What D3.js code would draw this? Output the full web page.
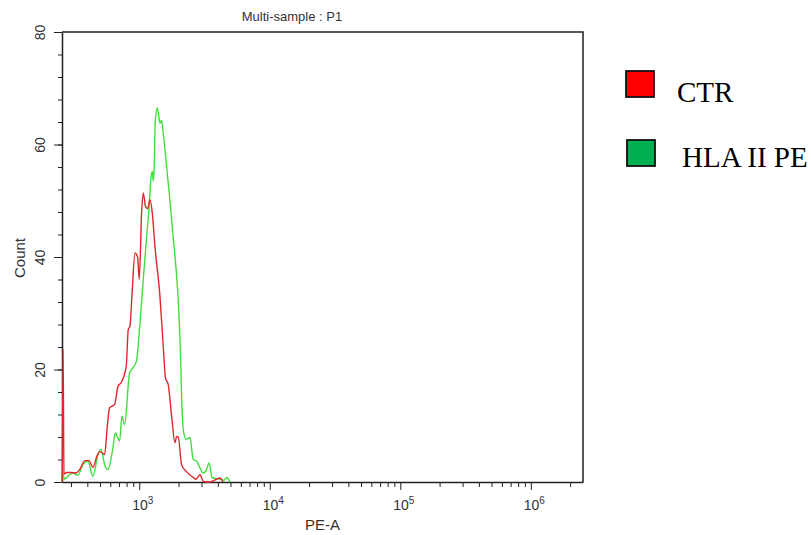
<!DOCTYPE html>
<html>
<head>
<meta charset="utf-8">
<script src="https://cdn.jsdelivr.net/npm/d3@7"></script>
<style>
  body { margin: 0; background: #fff; }
  .axis path, .axis line { stroke: #222; }
  .axis text { fill: #333; font-family: "Liberation Sans", Arial, sans-serif; }
  .line { fill: none; stroke-width: 1.4; stroke-linejoin: round; }
</style>
</head>
<body>
<div id="wrapper"></div>
<script>
// histogram outlines: PE-A value and event count
const ctrPE = [257, 261, 265, 278, 303, 327, 351, 384, 412, 442, 474, 500, 543, 569, 593, 648, 687, 728, 795, 824, 849, 879, 927, 972, 1000, 1043, 1073, 1120, 1160, 1208, 1258, 1319, 1441, 1527, 1588, 1668, 1771, 1877, 1935, 1990, 2113, 2308, 2594, 2720, 2919, 3094, 3482, 3919, 4153, 4379];
const ctrCount = [0, 23.5, 1.4, 1.7, 1.7, 1.6, 2.3, 3.8, 3.8, 2.6, 4.6, 5.4, 4.9, 9.9, 13.2, 13.8, 17, 17.7, 20.6, 27.1, 27.7, 33, 40.7, 40, 36, 47.9, 51.4, 48.9, 48.6, 50.2, 47.9, 41.9, 33, 24.1, 18.5, 17.3, 11.7, 7, 8.1, 8, 3, 1.8, 0.8, 0.5, 1.3, 0.1, 0, 0.5, 0.7, 0];

const hlaPE = [256, 259, 266, 284, 310, 339, 370, 404, 442, 483, 511, 543, 576, 629, 655, 708, 737, 773, 844, 895, 952, 1012, 1073, 1139, 1187, 1229, 1262, 1280, 1303, 1326, 1374, 1403, 1441, 1484, 1527, 1622, 1719, 1828, 1928, 2015, 2069, 2113, 2174, 2280, 2446, 2594, 2753, 2919, 3094, 3245, 3439, 3607, 4153, 4457, 4674, 4955];
const hlaCount = [0, 2.2, 0.5, 1, 1.6, 1.2, 3.1, 3.7, 1, 4.9, 5.8, 3.1, 2.2, 6.1, 8.7, 7.3, 11.7, 10.2, 19.4, 20.3, 21.5, 28, 36, 43.5, 48.5, 54, 55.2, 53.5, 56, 64, 66.5, 65.5, 63.8, 64.3, 62, 56, 50, 43, 37, 30, 23, 15, 9.3, 7.6, 7.9, 4, 3.7, 2.5, 1.6, 2, 3.4, 0.8, 0.5, 0.3, 0.8, 0];

const seriesNames = ["CTR", "HLA II PE"];
const yTickValues = [0, 20, 40, 60, 80];
const xDecades = [3, 4, 5, 6];

const dimensions = {
  width: 811,
  height: 535,
  margin: { top: 32, left: 62 },
  boundedWidth: 521,
  boundedHeight: 450,
};

const wrapper = d3.select("#wrapper")
  .append("svg")
    .attr("width", dimensions.width)
    .attr("height", dimensions.height);

const bounds = wrapper.append("g")
  .attr("transform", `translate(${dimensions.margin.left},${dimensions.margin.top})`);

// scales
const xScale = d3.scaleLog()
  .domain([256, 2.51e6])
  .range([0, dimensions.boundedWidth]);

const yScale = d3.scaleLinear()
  .domain([0, 80])
  .range([dimensions.boundedHeight, 0]);

// box top and right
bounds.append("path")
  .attr("d", `M0,0H${dimensions.boundedWidth}V${dimensions.boundedHeight}`)
  .attr("fill", "none")
  .attr("stroke", "#222")
  .attr("stroke-width", 1.5);

// y axis: minor ticks every 4, labelled majors every 20
const yMinor = d3.range(0, 81, 4);
bounds.append("g")
  .attr("class", "axis")
  .call(d3.axisLeft(yScale).tickValues(yMinor).tickSize(4).tickFormat(""))
  .call(g => g.select(".domain").remove());

const yAxis = bounds.append("g")
  .attr("class", "axis")
  .call(d3.axisLeft(yScale).tickValues(yTickValues).tickSize(8).tickSizeOuter(0));
yAxis.select(".domain").attr("stroke-width", 1.5);
yAxis.selectAll("text")
  .attr("transform", "rotate(-90)")
  .attr("x", 0)
  .attr("y", -17)
  .attr("dy", 0)
  .attr("text-anchor", "middle")
  .style("font-size", "14px");

// x axis: log decades with 2..9 minor ticks
const xMinor = [];
for (let n = 2; n <= 6; n++) {
  for (let k = 2; k <= 9; k++) {
    const v = k * Math.pow(10, n);
    if (v >= xScale.domain()[0] && v <= xScale.domain()[1]) xMinor.push(v);
  }
}
bounds.append("g")
  .attr("class", "axis")
  .attr("transform", `translate(0,${dimensions.boundedHeight})`)
  .call(d3.axisBottom(xScale).tickValues(xMinor).tickSize(5).tickFormat(""))
  .call(g => g.select(".domain").remove());

const xAxis = bounds.append("g")
  .attr("class", "axis")
  .attr("transform", `translate(0,${dimensions.boundedHeight})`)
  .call(d3.axisBottom(xScale)
    .tickValues(xDecades.map(p => Math.pow(10, p)))
    .tickSize(8)
    .tickSizeOuter(0)
    .tickFormat(""));
xAxis.select(".domain").attr("stroke-width", 1.5);
xAxis.selectAll(".tick")
  .append("text")
    .attr("x", 3)
    .attr("y", 28)
    .attr("text-anchor", "middle")
    .style("font-size", "14px")
    .text("10")
  .append("tspan")
    .attr("dy", -6)
    .style("font-size", "10px")
    .text((d, i) => xDecades[i]);

// histogram lines, drawn over the axes so the edge spike shows
const lineGenerator = d3.line()
  .x(d => xScale(d[0]))
  .y(d => yScale(d[1]))
  .curve(d3.curveMonotoneX);

const series = [
  { name: seriesNames[1], values: d3.zip(hlaPE, hlaCount), color: "#3fe03a" },
  { name: seriesNames[0], values: d3.zip(ctrPE, ctrCount), color: "#e3262b" },
];

bounds.selectAll(".line")
  .data(series)
  .join("path")
    .attr("class", "line")
    .attr("stroke", d => d.color)
    .attr("d", d => lineGenerator(d.values));

// axis labels and title
const labelFont = "Liberation Sans, Arial, sans-serif";
wrapper.append("text")
  .attr("x", 292)
  .attr("y", 21)
  .attr("text-anchor", "middle")
  .attr("font-family", labelFont)
  .attr("font-size", 13)
  .attr("fill", "#333")
  .text("Multi-sample : P1");

wrapper.append("text")
  .attr("x", dimensions.margin.left + dimensions.boundedWidth / 2)
  .attr("y", 530)
  .attr("text-anchor", "middle")
  .attr("font-family", labelFont)
  .attr("font-size", 15)
  .attr("fill", "#333")
  .text("PE-A");

wrapper.append("text")
  .attr("transform", "translate(25,258) rotate(-90)")
  .attr("text-anchor", "middle")
  .attr("font-family", labelFont)
  .attr("font-size", 15)
  .attr("fill", "#333")
  .text("Count");

// legend
const legendItems = [
  { name: seriesNames[0], color: "#ff0000", x: 626, y: 71, tx: 677, ty: 102 },
  { name: seriesNames[1], color: "#00b050", x: 627, y: 140, tx: 682, ty: 167 },
];
const legend = wrapper.append("g");
legend.selectAll("rect")
  .data(legendItems)
  .join("rect")
    .attr("x", d => d.x)
    .attr("y", d => d.y)
    .attr("width", 28)
    .attr("height", 26)
    .attr("fill", d => d.color)
    .attr("stroke", "#111")
    .attr("stroke-width", 1.8);
legend.selectAll("text")
  .data(legendItems)
  .join("text")
    .attr("x", d => d.tx)
    .attr("y", d => d.ty)
    .attr("font-family", "Liberation Serif, Times New Roman, serif")
    .attr("font-size", 29)
    .attr("fill", "#000")
    .text(d => d.name);
</script>
</body>
</html>
